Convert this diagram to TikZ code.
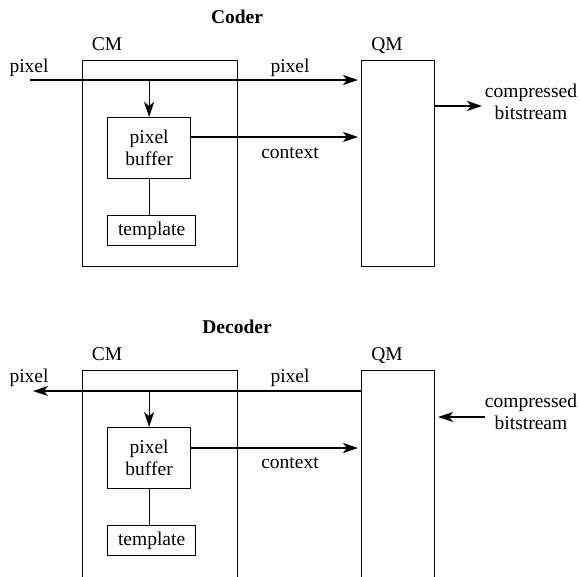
\documentclass[tikz,border=0pt]{standalone}
\usepackage{fontspec}
\setmainfont{Liberation Serif}
\usetikzlibrary{arrows.meta}
\begin{document}
\begin{tikzpicture}[x=1pt,y=-1pt,line width=1.2pt,
  font=\fontsize{19.5}{22}\selectfont,
  box/.style={draw,rectangle,inner sep=0pt,anchor=north west,align=center},
  lbl/.style={inner sep=0pt,anchor=base},
  arr/.style={-{Stealth[length=15pt,width=10pt,inset=4pt]}}]
\useasboundingbox (0,0) rectangle (580,576);
\clip (0,0) rectangle (580,576);
% ---------------- Coder ----------------
\node[lbl,font=\fontsize{19.5}{22}\selectfont\bfseries] (tcoder) at (237,23) {Coder};
\node[lbl] (lcm1) at (107,50) {CM};
\node[lbl] (lqm1) at (387,50) {QM};
\node[box,minimum width=155pt,minimum height=206pt] (cm1) at (82,60) {};
\node[box,minimum width=73pt,minimum height=206pt] (qm1) at (361,60) {};
\node[box,minimum width=83pt,minimum height=61pt] (buf1) at (107,117) {pixel\\buffer};
\node[box,minimum width=88pt,minimum height=30pt] (tpl1) at (107,215) {template};
\node[lbl] (lpin1) at (29,72) {pixel};
\node[lbl] (lpix1) at (290,72) {pixel};
\node[lbl] (lctx1) at (290,158) {context};
\node[lbl] (lcb1a) at (531,97) {compressed};
\node[lbl] (lcb1b) at (531,119) {bitstream};
\coordinate (cin1) at (30,80);
\coordinate (cout1) at (482,106);
\coordinate (ctx1) at (190,137);
\draw[arr,shorten >=3pt] (cin1) -- (qm1.west |- cin1);
\draw[arr] (buf1.north |- cin1) -- (buf1.north);
\draw[arr,shorten >=3pt] (ctx1) -- (qm1.west |- ctx1);
\draw (buf1.south) -- (buf1.south |- tpl1.north);
\draw[arr] (qm1.east |- cout1) -- (cout1);
% ---------------- Decoder ----------------
\node[lbl,font=\fontsize{19.5}{22}\selectfont\bfseries] (tdec) at (237,333) {Decoder};
\node[lbl] (lcm2) at (107,360) {CM};
\node[lbl] (lqm2) at (387,360) {QM};
\node[box,minimum width=155pt,minimum height=210pt] (cm2) at (82,370) {};
\node[box,minimum width=73pt,minimum height=210pt] (qm2) at (361,370) {};
\node[box,minimum width=83pt,minimum height=61pt] (buf2) at (107,427) {pixel\\buffer};
\node[box,minimum width=88pt,minimum height=30pt] (tpl2) at (107,525) {template};
\node[lbl] (lpin2) at (29,382) {pixel};
\node[lbl] (lpix2) at (290,382) {pixel};
\node[lbl] (lctx2) at (290,468) {context};
\node[lbl] (lcb2a) at (531,407) {compressed};
\node[lbl] (lcb2b) at (531,429) {bitstream};
\coordinate (dout2) at (33,391);
\coordinate (din2) at (485,417);
\coordinate (ctx2) at (190,448);
\draw[arr] (qm2.west |- dout2) -- (dout2);
\draw[arr] (buf2.north |- dout2) -- (buf2.north);
\draw[arr,shorten >=3pt] (ctx2) -- (qm2.west |- ctx2);
\draw (buf2.south) -- (buf2.south |- tpl2.north);
\draw[arr,shorten >=3pt] (din2) -- (qm2.east |- din2);
\end{tikzpicture}
\end{document}
